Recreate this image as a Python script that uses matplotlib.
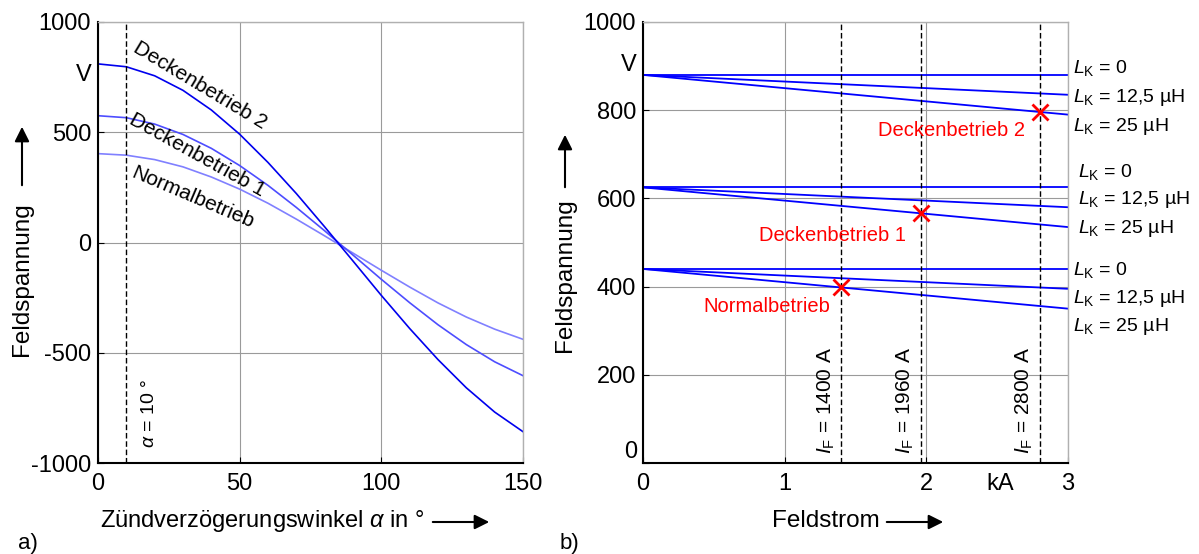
import numpy as np
import matplotlib.pyplot as plt
from matplotlib.patches import FancyArrowPatch

plt.rcParams['font.family'] = ['Liberation Sans', 'DejaVu Sans']
plt.rcParams['mathtext.fontset'] = 'custom'
plt.rcParams['mathtext.rm'] = 'Liberation Sans'
plt.rcParams['mathtext.it'] = 'Liberation Sans:italic'
plt.rcParams['axes.unicode_minus'] = False

# a) Feldspannung ueber Zuendverzoegerungswinkel
alpha = [0, 10, 20, 30, 40, 50, 60, 70, 80, 90, 100, 110, 120, 130, 140, 150]
u_decken2 = [810, 797, 756, 690, 601, 491, 363, 222, 71, -84, -240, -390, -531, -659, -769, -858]
u_decken1 = [575, 566, 537, 490, 427, 349, 259, 159, 53, -57, -167, -273, -373, -463, -541, -604]
u_normal = [403, 396, 376, 343, 297, 242, 178, 106, 30, -48, -126, -202, -274, -338, -393, -439]

# b) Feldspannung ueber Feldstrom (kA)
feldstrom = [0, 3]
d2_lk0 = [880, 880]
d2_lk12 = [880, 835]
d2_lk25 = [880, 790]
d1_lk0 = [625, 625]
d1_lk12 = [625, 580]
d1_lk25 = [625, 535]
n_lk0 = [440, 440]
n_lk12 = [440, 395]
n_lk25 = [440, 350]
betrieb_strom = [1.4, 1.96, 2.8]
betrieb_spannung = [398, 566, 796]
betrieb_namen = ["Normalbetrieb", "Deckenbetrieb 1", "Deckenbetrieb 2"]
strom_texte = ["1400 A", "1960 A", "2800 A"]

W, H = 1199, 554
fig = plt.figure(figsize=(W / 100, H / 100), dpi=100)
ax1 = fig.add_axes([98 / W, 1 - 463 / H, 425 / W, 441 / H])
ax2 = fig.add_axes([643 / W, 1 - 463 / H, 425 / W, 441 / H])


def style(ax):
    ax.grid(True, color='#9a9a9a', lw=0.8)
    ax.set_axisbelow(True)
    for s in ['top', 'right']:
        ax.spines[s].set_color('#b0b0b0')
        ax.spines[s].set_linewidth(1.0)
    for s in ['left', 'bottom']:
        ax.spines[s].set_linewidth(1.5)
    ax.tick_params(direction='in', length=4, labelsize=17)
    ax.tick_params(axis='y', pad=5)
    ax.tick_params(axis='x', pad=7)


# ---- a)
style(ax1)
ax1.plot(alpha, u_normal, color='#8080ff', lw=1.2)
ax1.plot(alpha, u_decken1, color='#4d4dff', lw=1.2)
ax1.plot(alpha, u_decken2, color='#0000ee', lw=1.2)
ax1.axvline(10, color='k', lw=1, ls=(0, (4, 2)))
ax1.set_xlim(0, 150)
ax1.set_ylim(-1000, 1000)
ax1.set_xticks([0, 50, 100, 150])
ax1.set_yticks([-1000, -500, 0, 500, 1000])
ax1.text(-0.014, 760, "V", transform=ax1.get_yaxis_transform(),
         ha='right', va='center', fontsize=17)
ax1.text(36, 714, "Deckenbetrieb 2", rotation=-31, fontsize=15,
         ha='center', va='center', rotation_mode='anchor')
ax1.text(35, 397, "Deckenbetrieb 1", rotation=-29, fontsize=15,
         ha='center', va='center', rotation_mode='anchor')
ax1.text(33.5, 202, "Normalbetrieb", rotation=-23, fontsize=15,
         ha='center', va='center', rotation_mode='anchor')
ax1.text(18.3, -775, r"$\alpha$ = 10 °", rotation=90, fontsize=14,
         ha='center', va='center')

# ---- b)
style(ax2)
for u in [d2_lk0, d2_lk12, d2_lk25, d1_lk0, d1_lk12, d1_lk25, n_lk0, n_lk12, n_lk25]:
    ax2.plot(feldstrom, u, color='#0000ff', lw=1.3)
for x, t in zip(betrieb_strom, strom_texte):
    ax2.axvline(x, color='k', lw=1, ls=(0, (4, 2)))
    ax2.text(x - 0.105, 20, r"$I_\mathrm{F}$ = " + t, rotation=90,
             fontsize=15, ha='center', va='bottom')
ax2.plot(betrieb_strom, betrieb_spannung, 'x', color='#ff0000', ms=11, mew=2)
ax2.text(0.875, 354, betrieb_namen[0], color='#ff0000', fontsize=14.5,
         ha='center', va='center')
ax2.text(1.34, 517, betrieb_namen[1], color='#ff0000', fontsize=14.5,
         ha='center', va='center')
ax2.text(2.18, 755, betrieb_namen[2], color='#ff0000', fontsize=14.5,
         ha='center', va='center')
ax2.set_xlim(0, 3)
ax2.set_ylim(0, 1000)
ax2.set_xticks([0, 1, 2, 3])
ax2.set_yticks([0, 200, 400, 600, 800, 1000])
ax2.set_yticklabels(['', '200', '400', '600', '800', '1000'])
ax2.text(-0.014, 25, "0", transform=ax2.get_yaxis_transform(),
         ha='right', va='center', fontsize=17)
ax2.text(-0.014, 903, "V", transform=ax2.get_yaxis_transform(),
         ha='right', va='center', fontsize=17)
ax2.text(2.52, -0.048, "kA", transform=ax2.get_xaxis_transform(),
         ha='center', va='center', fontsize=17)

lk_texte = [r"$L_\mathrm{K}$ = 0", r"$L_\mathrm{K}$ = 12,5 µH", r"$L_\mathrm{K}$ = 25 µH"]
lk_y = [[896, 828, 764], [660, 597, 531], [438, 373, 309]]
lk_x = [3.035, 3.07, 3.035]
for gx, gy in zip(lk_x, lk_y):
    for y, t in zip(gy, lk_texte):
        ax2.text(gx, y, t, fontsize=14, ha='left', va='center', clip_on=False)


# ---- achsenbeschriftungen mit pfeilen
def px(x, y):
    return (x / W, 1 - y / H)


def pfeil(p0, p1):
    fig.add_artist(FancyArrowPatch(px(*p0), px(*p1), transform=fig.transFigure,
                                   arrowstyle='-|>', mutation_scale=22,
                                   lw=1.5, color='k'))


fig.text(*px(22, 279), "Feldspannung", rotation=90, fontsize=17.5,
         ha='center', va='center')
pfeil((22, 188), (22, 124))
fig.text(*px(565, 275), "Feldspannung", rotation=90, fontsize=17.5,
         ha='center', va='center')
pfeil((565, 190), (565, 132))
fig.text(*px(100, 521), r"Zündverzögerungswinkel $\alpha$ in °", fontsize=17,
         ha='left', va='center')
pfeil((430, 522), (492, 522))
fig.text(*px(772, 521), "Feldstrom", fontsize=17.5, ha='left', va='center')
pfeil((884, 522), (946, 522))
fig.text(*px(18, 543), "a)", fontsize=16, ha='left', va='center')
fig.text(*px(560, 543), "b)", fontsize=16, ha='left', va='center')

fig.savefig("out.png", dpi=100)
